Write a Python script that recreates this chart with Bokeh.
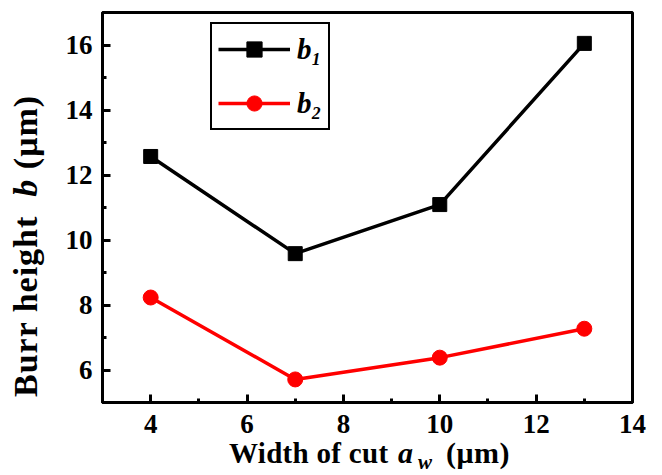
from bokeh.plotting import figure
from bokeh.models import Range1d, SingleIntervalTicker, Legend, LegendItem, Div
from bokeh.layouts import column, row
from bokeh.embed import file_html
from bokeh.resources import INLINE

# ---- data ----
widths = [4, 7, 10, 13]
b1 = [12.57, 9.58, 11.09, 16.05]
b2 = [8.23, 5.71, 6.38, 7.27]
series_labels = ["b\u2081", "b\u2082"]
x_ticks_interval = 2
y_ticks_interval = 2

FONT = "'Liberation Serif', 'Times New Roman', 'DejaVu Serif', 'Noto Serif', serif"
YDIV_W = 50
P_H = 442

p = figure(width=662 - YDIV_W, height=P_H, output_backend="svg", toolbar_location=None,
           x_range=Range1d(3, 14), y_range=Range1d(5, 17),
           min_border_left=102 - YDIV_W, min_border_right=30, min_border_top=12,
           min_border_bottom=40)
p.background_fill_color = "white"
p.border_fill_color = "white"
p.grid.visible = False
p.outline_line_color = "black"
p.outline_line_width = 3

for ax, interval in ((p.xaxis[0], x_ticks_interval), (p.yaxis[0], y_ticks_interval)):
    ax.ticker = SingleIntervalTicker(interval=interval, num_minor_ticks=2)
    ax.axis_line_width = 3
    ax.axis_line_color = "black"
    ax.major_tick_in = 8
    ax.major_tick_out = 0
    ax.minor_tick_in = 4
    ax.minor_tick_out = 0
    ax.major_tick_line_width = 3
    ax.minor_tick_line_width = 3
    ax.major_tick_line_color = "black"
    ax.minor_tick_line_color = "black"
    ax.major_label_text_font = FONT
    ax.major_label_text_font_style = "bold"
    ax.major_label_text_font_size = "27px"
    ax.major_label_text_color = "black"
    ax.axis_label = None

p.xaxis[0].major_label_standoff = 12
p.yaxis[0].major_label_standoff = 10

r1l = p.line(widths, b1, line_color="black", line_width=3.5)
r1m = p.scatter(widths, b1, marker="square", size=14, fill_color="black", line_color="black")
r2l = p.line(widths, b2, line_color="#ff0000", line_width=3.5)
r2m = p.scatter(widths, b2, marker="circle", size=15, fill_color="#ff0000", line_color="#ff0000")

legend = Legend(items=[LegendItem(label=series_labels[0], renderers=[r1l, r1m]),
                       LegendItem(label=series_labels[1], renderers=[r2l, r2m])],
                location=(108, 272), orientation="vertical",
                border_line_color="black", border_line_width=2.5, border_line_alpha=1.0,
                background_fill_color="white", background_fill_alpha=1.0,
                label_text_font=FONT, label_text_font_style="bold italic",
                label_text_font_size="29px", label_text_color="black",
                glyph_width=72, glyph_height=38, spacing=16, padding=6,
                label_standoff=7, margin=0)
p.add_layout(legend, "center")

# ---- axis titles as HTML text (italic symbol and subscript) ----
CSS_FONT = FONT.replace("'", "&quot;")

def piece(text, left, top, size, italic=False, rotate=False, spacing=0.0):
    style = (f"position:absolute; left:{left}px; top:{top}px; white-space:nowrap; "
             f"font-family:{CSS_FONT}; font-weight:bold; font-size:{size}px; "
             f"line-height:{size}px; letter-spacing:{spacing}px; color:black; margin:0; padding:0;")
    if italic:
        style += " font-style:italic;"
    if rotate:
        style += " transform:rotate(-90deg); transform-origin:left top;"
    return f'<div style="{style}">{text}</div>'

ytitle = piece("Burr height&nbsp; <i>b</i> (\u03bcm)", 9, 397, 34, rotate=True, spacing=1.0)
ydiv = Div(text=f'<div style="position:relative; width:{YDIV_W}px; height:{P_H}px;">{ytitle}</div>',
           width=YDIV_W, height=P_H, margin=0)

XDIV_H = 475 - P_H
xtitle = "".join([
    piece("Width of cut", 229, -3, 29, spacing=0.3),
    piece("a", 398, -4, 30, italic=True),
    piece("w", 418, 10, 21, italic=True),
    piece("(\u03bcm)", 446, -4, 30, spacing=0.5),
])
xdiv = Div(text=f'<div style="position:relative; width:662px; height:{XDIV_H}px;">{xtitle}</div>',
           width=662, height=XDIV_H, margin=0)

layout = column(row(ydiv, p, spacing=0), xdiv, spacing=0)

open("out.html", "w").write(file_html(layout, INLINE))
